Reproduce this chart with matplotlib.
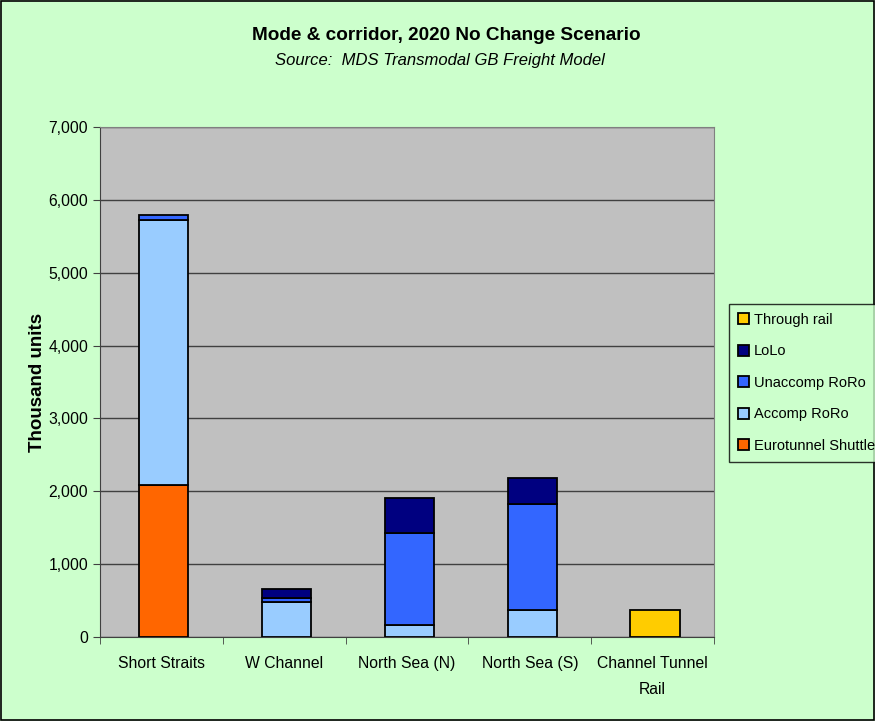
import numpy as np
import matplotlib.pyplot as plt
from matplotlib.patches import Rectangle
from matplotlib.ticker import FuncFormatter

plt.rcParams['font.family'] = ['Liberation Sans', 'DejaVu Sans']

categories = ["Short Straits", "W Channel", "North Sea (N)", "North Sea (S)", "Channel Tunnel\nRail"]
eurotunnel = [2080, 0, 0, 0, 0]
accomp = [3640, 480, 165, 370, 0]
unaccomp = [70, 60, 1267, 1455, 0]
lolo = [0, 125, 470, 355, 0]
through_rail = [0, 0, 0, 0, 370]

series = [
    ("Eurotunnel Shuttle", eurotunnel, "#FF6600"),
    ("Accomp RoRo", accomp, "#99CCFF"),
    ("Unaccomp RoRo", unaccomp, "#3366FF"),
    ("LoLo", lolo, "#000080"),
    ("Through rail", through_rail, "#FFCC00"),
]

fig = plt.figure(figsize=(8.75, 7.21), dpi=100)
fig.patch.set_facecolor("#CCFFCC")
fig.patches.append(Rectangle((0.001, 0.001), 0.998, 0.997, transform=fig.transFigure,
                             fill=False, edgecolor="black", linewidth=1.2))

ax = fig.add_axes([100 / 875, 84 / 721, 614 / 875, 510 / 721])
ax.set_facecolor("#C0C0C0")

x = np.arange(len(categories))
bottom = np.zeros(len(categories))
handles = []
for name, vals, col in series:
    vals = np.array(vals, dtype=float)
    mask = vals > 0
    b = ax.bar(x[mask] + 0.02, vals[mask], width=0.4, bottom=bottom[mask], color=col,
               edgecolor="black", linewidth=1.3, label=name, zorder=3)
    handles.append(b)
    bottom += vals

ax.set_xlim(-0.5, len(categories) - 0.5)
ax.set_ylim(0, 7000)
ax.set_yticks(np.arange(0, 7001, 1000))
ax.yaxis.set_major_formatter(FuncFormatter(lambda v, p: f"{int(v):,}"))
ax.grid(axis="y", color="#404040", linewidth=1, zorder=1)
ax.set_xticks(x)
ax.set_xticklabels(categories, fontsize=11.3, linespacing=1.9)
ax.set_xticks(np.arange(-0.5, len(categories), 1), minor=True)
ax.tick_params(axis="x", which="major", length=0, pad=14)
ax.tick_params(axis="x", which="minor", length=5, direction="out", color="#404040")
ax.tick_params(axis="y", labelsize=11.3, length=5, color="#404040")
for s in ax.spines.values():
    s.set_color("#808080")
ax.spines["bottom"].set_color("#404040")
ax.spines["left"].set_color("#404040")

ax.set_ylabel("Thousand units", fontsize=13.5, fontweight="bold", labelpad=2)

fig.text(446 / 875, 1 - 35 / 721, "Mode & corridor, 2020 No Change Scenario",
         ha="center", va="center", fontsize=13.7, fontweight="bold")
fig.text(440 / 875, 1 - 61 / 721, "Source:  MDS Transmodal GB Freight Model",
         ha="center", va="center", fontsize=12, style="italic")

leg = fig.legend(handles[::-1], [s[0] for s in series][::-1], loc="upper left",
                 bbox_to_anchor=(729 / 875, 1 - 304 / 721), fontsize=10.5,
                 frameon=True, fancybox=False, edgecolor="black", facecolor="#CCFFCC",
                 handlelength=0.8, handleheight=0.8, handletextpad=0.3,
                 labelspacing=1.2, borderpad=0.6, borderaxespad=0)
leg.get_frame().set_linewidth(1)

fig.savefig("out.png", dpi=100, facecolor=fig.get_facecolor())
